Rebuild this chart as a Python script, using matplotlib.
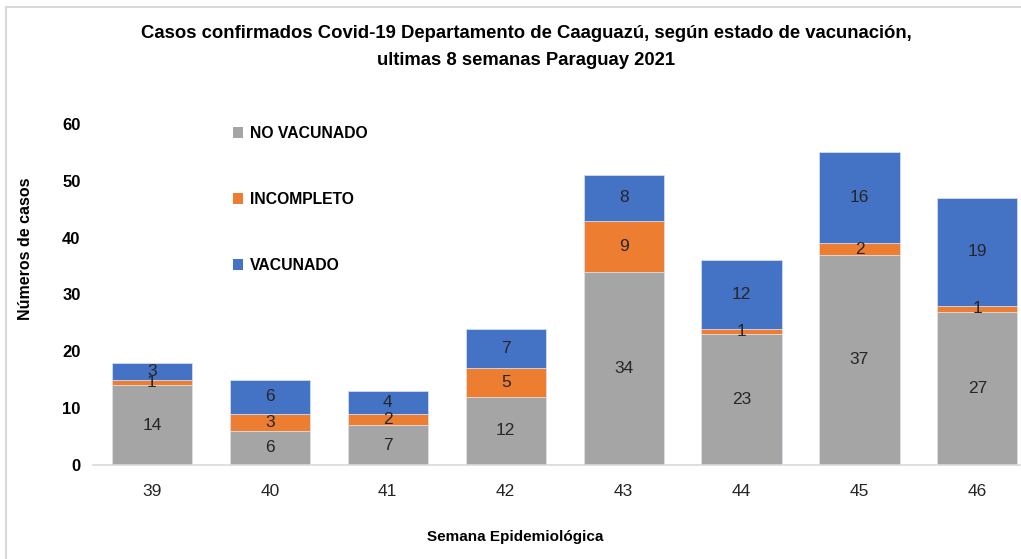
"""Stacked bars of Covid-19 cases in Caaguazú by vaccination status."""
import matplotlib.pyplot as plt
from matplotlib.lines import Line2D
from matplotlib.patches import Patch
import numpy as np

plt.rcParams["font.family"] = ["Liberation Sans", "DejaVu Sans"]

semanas = ["39", "40", "41", "42", "43", "44", "45", "46"]
no_vacunado = [14, 6, 7, 12, 34, 23, 37, 27]
incompleto = [1, 3, 2, 5, 9, 1, 2, 1]
vacunado = [3, 6, 4, 7, 8, 12, 16, 19]

series = [
    ("NO VACUNADO", no_vacunado, "#A5A5A5"),
    ("INCOMPLETO", incompleto, "#ED7D31"),
    ("VACUNADO", vacunado, "#4472C4"),
]

W, H = 1021, 559
fig = plt.figure(figsize=(W / 100, H / 100), dpi=100)
ax = fig.add_axes([93 / W, (H - 465) / H, (W - 93) / W, (465 - 124) / H])

x = np.arange(len(semanas))
bottom = np.zeros(len(semanas))
for name, vals, color in series:
    vals = np.array(vals, dtype=float)
    ax.bar(x, vals, width=0.68, bottom=bottom, color=color, label=name,
           edgecolor="#dde3ee", linewidth=0.5)
    for xi, b, v in zip(x, bottom, vals):
        ax.text(xi, b + v / 2, f"{int(v)}", ha="center", va="center",
                fontsize=12.5, color="#262626")
    bottom += vals

ax.set_xlim(-0.5, 7.37)
ax.set_ylim(0, 60)
ax.set_xticks(x)
ax.set_xticklabels(semanas, fontsize=12.5, color="#262626")
ax.set_yticks(range(0, 61, 10))
ax.set_yticklabels([str(v) for v in range(0, 61, 10)], fontsize=12,
                   fontweight="bold", color="#000000")
ax.tick_params(axis="both", length=0)
ax.tick_params(axis="x", pad=14)
ax.tick_params(axis="y", pad=9)
for side in ["left", "right", "top"]:
    ax.spines[side].set_visible(False)
ax.spines["bottom"].set_color("#d9d9d9")
ax.spines["bottom"].set_linewidth(1.2)

fig.text(25 / W, 1 - 249 / H, "Números de casos", rotation=90, ha="center",
         va="center", fontsize=11.5, fontweight="bold")
fig.text(515 / W, 1 - 537 / H, "Semana Epidemiológica", ha="center",
         va="center", fontsize=11, fontweight="bold")
fig.text(526 / W, 1 - 47 / H,
         "Casos confirmados Covid-19 Departamento de Caaguazú, según estado de vacunación,\n"
         "ultimas 8 semanas Paraguay 2021",
         ha="center", va="center", fontsize=13.3, fontweight="bold",
         linespacing=1.75)

handles = [Patch(facecolor=c, edgecolor="none") for _, _, c in series]
labels = [n for n, _, _ in series]
leg = ax.legend(handles, labels, loc="upper left",
                bbox_to_anchor=(126 / (W - 93), 1.035), frameon=False,
                handlelength=0.65, handleheight=0.65, handletextpad=0.45,
                labelspacing=3.25, prop={"weight": "bold", "size": 11.3})

# outer frame of the chart area
fig.add_artist(Line2D([6 / W, 1], [1 - 7 / H, 1 - 7 / H], color="#d9d9d9", lw=1.5))
fig.add_artist(Line2D([6 / W, 6 / W], [0, 1 - 7 / H], color="#d9d9d9", lw=1.5))

fig.savefig("out.png", dpi=100)
